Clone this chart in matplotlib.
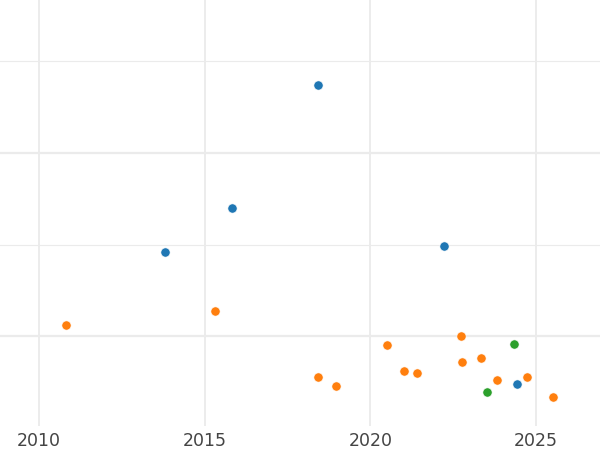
import matplotlib
matplotlib.use("Agg")
import matplotlib.pyplot as plt
from matplotlib.ticker import MultipleLocator

blue_x = [2013.79, 2015.82, 2018.41, 2022.21, 2024.42]
blue_y = [0.92, 1.40, 2.74, 0.98, -0.52]
orange_x = [2010.81, 2015.30, 2018.41, 2018.95, 2020.50, 2021.00, 2021.42,
            2022.72, 2022.75, 2023.35, 2023.81, 2024.72, 2025.51]
orange_y = [0.12, 0.28, -0.44, -0.54, -0.10, -0.38, -0.40,
            0.00, -0.28, -0.24, -0.48, -0.44, -0.66]
green_x = [2024.32, 2023.51]
green_y = [-0.08, -0.61]
xticks = [2010, 2015, 2020, 2025]

fig = plt.figure(figsize=(6, 4.5), dpi=100)
ax = fig.add_axes([0, 24/450, 1, 426/450])
for x, y, c in [(blue_x, blue_y, "#1f77b4"), (orange_x, orange_y, "#ff7f0e"),
                (green_x, green_y, "#2ca02c")]:
    ax.scatter(x, y, s=44, color=c, edgecolors="white", linewidths=0.4, zorder=3)

ax.set_xlim(2008.82, 2026.93)
ax.set_ylim(-0.98, 3.67)
ax.set_xticks(xticks)
ax.set_xticklabels([str(t) for t in xticks])
ax.yaxis.set_major_locator(MultipleLocator(2))
ax.yaxis.set_minor_locator(MultipleLocator(1))
ax.tick_params(axis="y", which="both", length=0, labelleft=False)
ax.tick_params(axis="x", length=0, pad=4.5, labelsize=12.5, labelcolor="#444444")
ax.grid(True, axis="x", color="#ebebeb", linewidth=1.3)
ax.grid(True, axis="y", which="major", color="#ebebeb", linewidth=1.6)
ax.grid(True, axis="y", which="minor", color="#ebebeb", linewidth=0.8)
ax.set_axisbelow(True)
for s in ax.spines.values():
    s.set_visible(False)
fig.savefig("out.png", dpi=100)
